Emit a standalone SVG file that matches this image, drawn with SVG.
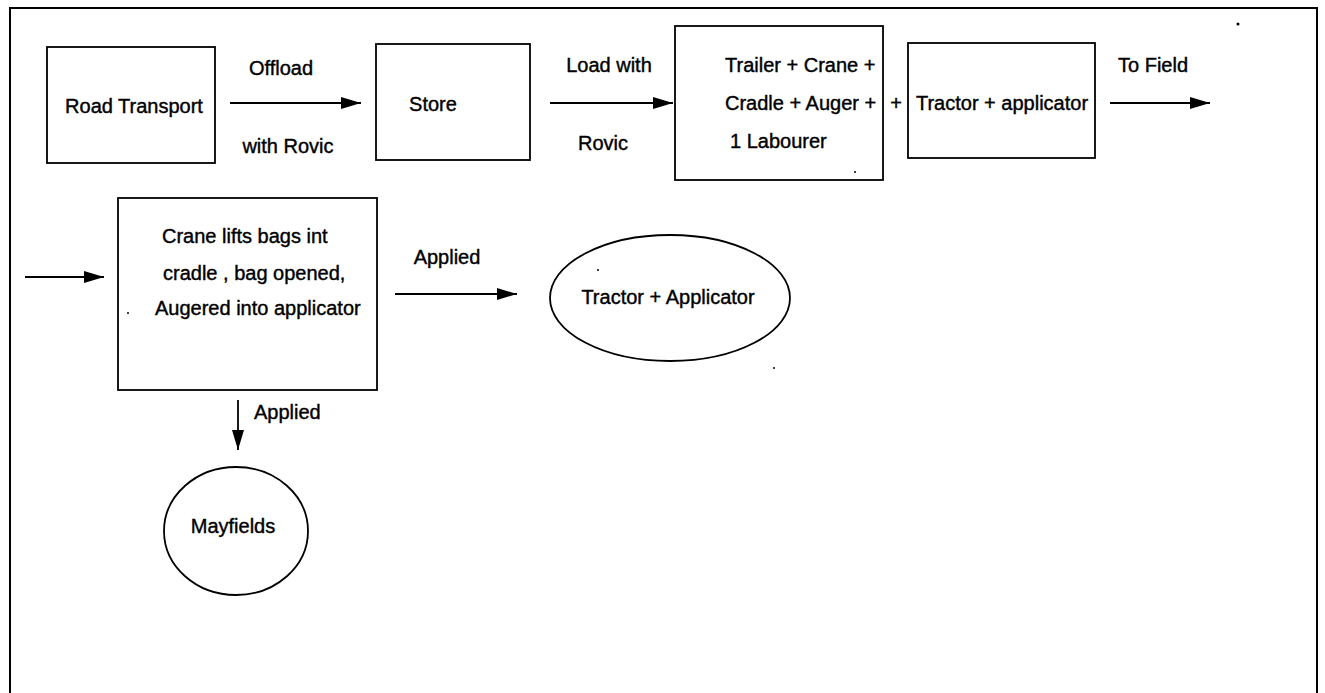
<svg xmlns="http://www.w3.org/2000/svg" width="1325" height="693" viewBox="0 0 1325 693">
<style>
.box{fill:#fff;stroke:#000;stroke-width:1.8}
.t{font-family:"Liberation Sans",Arial,sans-serif;font-size:20px;fill:#000;stroke:#000;stroke-width:0.4}
.m{text-anchor:middle}
.c{stroke:#000;stroke-width:1.8;fill:none;marker-end:url(#ah)}
</style>
<defs>
<marker id="ah" markerUnits="userSpaceOnUse" markerWidth="22" markerHeight="14" refX="20" refY="6" orient="auto">
<path d="M0,0 L20,6 L0,12 Z" fill="#000"/>
</marker>
</defs>
<rect width="1325" height="693" fill="#fff"/>
<path d="M10,693 L10,8 L1317,8 L1317,693" fill="none" stroke="#000" stroke-width="2"/>
<g id="connectors">
<line class="c" x1="230" y1="103" x2="361" y2="103"/>
<line class="c" x1="550" y1="103" x2="673" y2="103"/>
<line class="c" x1="1110" y1="103" x2="1210" y2="103"/>
<line class="c" x1="25" y1="277" x2="104" y2="277"/>
<line class="c" x1="395" y1="294" x2="517" y2="294"/>
<line class="c" x1="238" y1="400" x2="238" y2="450"/>
<text class="t m" x="281" y="75">Offload</text>
<text class="t m" x="288" y="153">with Rovic</text>
<text class="t m" x="609" y="72">Load with</text>
<text class="t m" x="603" y="150">Rovic</text>
<text class="t m" x="1153" y="72">To Field</text>
<text class="t m" x="447" y="264">Applied</text>
<text class="t" x="254" y="419">Applied</text>
</g>
<g id="road-transport">
<rect class="box" x="47" y="47" width="168" height="116"/>
<text class="t m" x="134" y="113">Road Transport</text>
</g>
<g id="store">
<rect class="box" x="376" y="44" width="154" height="116"/>
<text class="t m" x="433" y="111">Store</text>
</g>
<g id="trailer">
<rect class="box" x="675" y="26" width="208" height="154"/>
<text class="t" x="725" y="72">Trailer + Crane +</text>
<text class="t" x="725" y="110">Cradle + Auger +</text>
<text class="t" x="730" y="148">1 Labourer</text>
</g>
<text class="t m" x="896" y="110">+</text>
<g id="tractor-applicator-box">
<rect class="box" x="908" y="43" width="187" height="115"/>
<text class="t m" x="1002" y="110">Tractor + applicator</text>
</g>
<g id="crane-lifts">
<rect class="box" x="118" y="198" width="259" height="192"/>
<text class="t" x="162" y="243">Crane lifts bags int</text>
<text class="t" x="163" y="280">cradle , bag opened,</text>
<text class="t" x="155" y="315">Augered into applicator</text>
</g>
<g id="tractor-applicator-ellipse">
<ellipse class="box" cx="670" cy="298" rx="120" ry="63"/>
<text class="t m" x="668" y="304">Tractor + Applicator</text>
</g>
<g id="mayfields">
<ellipse class="box" cx="236" cy="531" rx="72" ry="64"/>
<text class="t m" x="233" y="533">Mayfields</text>
</g>
<g id="specks" fill="#000">
<circle cx="1238" cy="24" r="1.5"/>
<circle cx="855" cy="172" r="1"/>
<circle cx="128" cy="313" r="1"/>
<circle cx="598" cy="270" r="1"/>
<circle cx="774" cy="368" r="1"/>
</g>
</svg>
